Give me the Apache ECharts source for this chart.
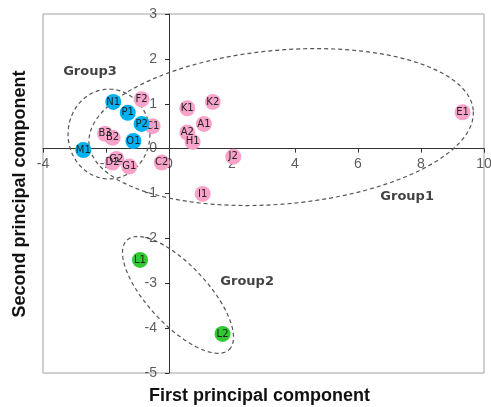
<!DOCTYPE html>
<html><head><meta charset="utf-8">
<script src="https://cdn.jsdelivr.net/npm/echarts@6/dist/echarts.min.js"></script>
<style>html,body{margin:0;padding:0;background:#fff}#c{width:491px;height:407px}</style>
</head><body><div id="c"></div>
<script>
// Group 1 (pink) samples
const pinkNames = ['F2','C1','B3','B2','G2','D2','G1','C2','K1','K2','A1','A2','H1','J2','I1','E1'];
const pinkX = [-0.87,-0.52,-2.03,-1.79,-1.67,-1.79,-1.26,-0.23,0.58,1.39,1.11,0.58,0.75,2.04,1.07,9.32];
const pinkY = [1.10,0.50,0.33,0.24,-0.23,-0.31,-0.40,-0.31,0.90,1.04,0.55,0.36,0.15,-0.18,-1.01,0.81];
// Group 3 (blue) samples
const blueNames = ['N1','P1','P2','O1','M1'];
const blueX = [-1.77,-1.31,-0.87,-1.13,-2.72];
const blueY = [1.04,0.80,0.55,0.17,-0.03];
// Group 2 (green) samples
const greenNames = ['L1','L2'];
const greenX = [-0.92,1.70];
const greenY = [-2.48,-4.13];
// Group ellipses: centre (x,y) and two semi-axis vectors, data units
const ellipseNames = ['Group1','Group3','Group2'];
const ellipseCX = [3.56,-1.905,0.286];
const ellipseCY = [0.48,0.325,-3.26];
const ellipseAX = [6.10,1.30,1.62];
const ellipseAY = [0.374,0,-1.22];
const ellipseBX = [-0.213,0,0.695];
const ellipseBY = [1.708,1.0,0.454];
// Group labels
const groupLabels = ['Group3','Group1','Group2'];
const groupLabelX = [-2.51,7.56,2.48];
const groupLabelY = [1.71,-1.08,-2.97];
// Axis ranges and tick labels
const xMin = -4, xMax = 10, xStep = 2;
const yMin = -5, yMax = 3, yStep = 1;
const xTickLabels = [-4,-2,0,2,4,6,8,10];
const yTickLabels = [-5,-4,-3,-2,-1,0,1,2,3];

function pts(names, xs, ys){ return names.map((n,i)=>({name:n, value:[xs[i], ys[i]]})); }

const chart = echarts.init(document.getElementById('c'), null, {renderer:'canvas'});
const labelStyle = {show:true, position:'inside', formatter:'{b}', fontFamily:'DejaVu Sans', fontSize:10, color:'#222'};
const tickFont = {fontFamily:'Liberation Sans', fontSize:14, color:'#333'};
chart.setOption({
  animation:false,
  grid:{left:43, right:7, top:14, bottom:34, show:true, borderColor:'#a0a0a0', borderWidth:1, backgroundColor:'transparent'},
  xAxis:{type:'value', min:xMin, max:xMax, interval:xStep,
    axisLine:{onZero:true, lineStyle:{color:'#333', width:1}},
    axisTick:{show:true, length:4, lineStyle:{color:'#333'}},
    axisLabel:{show:false},
    splitLine:{show:false}},
  yAxis:{type:'value', min:yMin, max:yMax, interval:yStep,
    axisLine:{onZero:true, lineStyle:{color:'#333', width:1}},
    axisTick:{show:true, length:4, lineStyle:{color:'#333'}},
    axisLabel:{show:false},
    splitLine:{show:false}},
  graphic:[
    {type:'text', x:259.5, y:396, style:{text:'First principal component', font:'bold 18px "Liberation Sans"', fill:'#111', align:'center', verticalAlign:'middle'}},
    {type:'text', x:20, y:194, rotation:Math.PI/2, style:{text:'Second principal component', font:'bold 18px "Liberation Sans"', fill:'#111', align:'center', verticalAlign:'middle'}}
  ],
  series:[
    {type:'custom', name:'ellipses', coordinateSystem:'cartesian2d', silent:true, z:1,
      data: ellipseNames.map((n,i)=>[ellipseCX[i],ellipseCY[i],ellipseAX[i],ellipseAY[i],ellipseBX[i],ellipseBY[i]]),
      encode:{x:0,y:1},
      renderItem:function(params, api){
        const cx=api.value(0), cy=api.value(1), ax=api.value(2), ay=api.value(3), bx=api.value(4), by=api.value(5);
        const points=[];
        for(let k=0;k<120;k++){
          const t=k/120*Math.PI*2, c=Math.cos(t), s=Math.sin(t);
          points.push(api.coord([cx+c*ax+s*bx, cy+c*ay+s*by]));
        }
        return {type:'polygon', shape:{points:points}, style:{fill:null, stroke:'#555', lineWidth:1.2, lineDash:[4,3]}};
      }},
    {type:'scatter', name:'xTicks', z:2, symbolSize:0, silent:true,
      label:Object.assign({show:true, position:'bottom', distance:9, formatter:function(p){return String(p.value[0]);}}, tickFont),
      data:xTickLabels.map(v=>({value:[v,0]}))},
    {type:'scatter', name:'yTicks', z:2, symbolSize:0, silent:true,
      label:Object.assign({show:true, position:'left', distance:12, formatter:function(p){return String(p.value[1]);}}, tickFont),
      data:yTickLabels.map(v=>({value:[0,v]}))},
    {type:'scatter', name:'Group1', z:3, symbolSize:16, itemStyle:{color:'#f9a3cb', opacity:1},
      label:labelStyle, data:pts(pinkNames,pinkX,pinkY)},
    {type:'scatter', name:'Group3', z:4, symbolSize:16, itemStyle:{color:'#00b0f0', opacity:1},
      label:labelStyle, data:pts(blueNames,blueX,blueY)},
    {type:'scatter', name:'Group2', z:4, symbolSize:16, itemStyle:{color:'#33c933', opacity:1},
      label:labelStyle, data:pts(greenNames,greenX,greenY)},
    {type:'scatter', name:'labels', z:5, symbolSize:0, silent:true,
      label:{show:true, position:'inside', formatter:'{b}', fontFamily:'DejaVu Sans', fontWeight:'bold', fontSize:13, color:'#111'},
      data:pts(groupLabels,groupLabelX,groupLabelY)}
  ]
});
</script></body></html>
